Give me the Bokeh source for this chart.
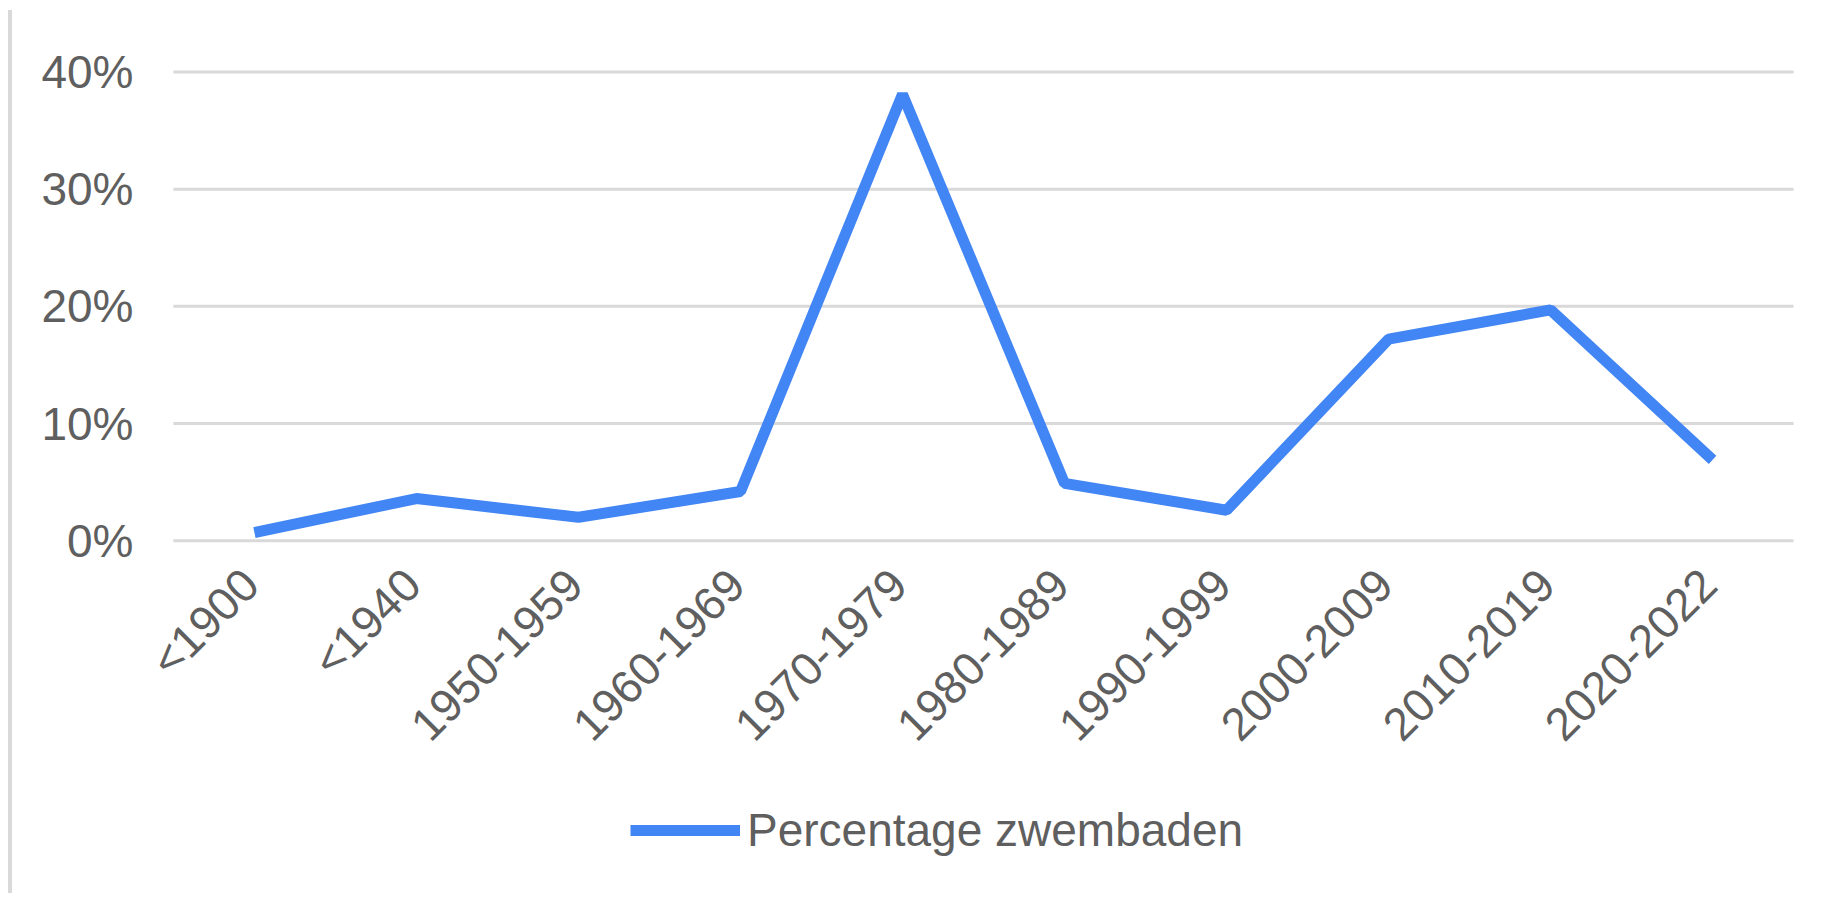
import math
from bokeh.plotting import figure
from bokeh.models import (FactorRange, Range1d, FixedTicker, PrintfTickFormatter,
                          Legend, LegendItem, ColumnDataSource, LabelSet)
from bokeh.core.properties import value
from bokeh.embed import file_html
from bokeh.resources import INLINE

# ---- data ----
categories = ["<1900", "<1940", "1950-1959", "1960-1969", "1970-1979",
              "1980-1989", "1990-1999", "2000-2009", "2010-2019", "2020-2022"]
percentage_zwembaden = [0.7, 3.6, 2.0, 4.2, 38.1, 4.9, 2.6, 17.2, 19.7, 6.9]
y_ticks = [0, 10, 20, 30, 40]
series_name = "Percentage zwembaden"

FONT = "Liberation Sans"
TEXT_COLOR = "#5f5f5f"
GRID_COLOR = "#d9d9d9"
LINE_COLOR = "#4285F4"

source = ColumnDataSource(dict(cat=categories, val=percentage_zwembaden,
                               base=[0] * len(categories)))
grid_source = ColumnDataSource(dict(tick=y_ticks,
                                    x0=[0] * len(y_ticks),
                                    x1=[len(categories)] * len(y_ticks)))

# The frame extends below 0% (and a little to the left) so that the category
# labels and the legend sit inside it.
p = figure(
    width=1813, height=883,
    x_range=FactorRange(factors=categories, range_padding=0.16,
                        range_padding_units="absolute"),
    y_range=Range1d(-29.85, 40.3),
    x_axis_location=None,
    output_backend="svg", toolbar_location=None,
    min_border_left=135, min_border_right=6,
    min_border_top=58, min_border_bottom=3,
)
p.styles = {"border-left": "4px solid #d9d9d9", "margin-left": "8px", "margin-top": "10px"}
p.outline_line_color = None
p.background_fill_color = "white"
p.border_fill_color = "white"
p.xgrid.grid_line_color = None
p.ygrid.grid_line_color = None

# horizontal gridlines spanning the category bands only
p.segment(x0="x0", x1="x1", y0="tick", y1="tick", source=grid_source,
          line_color=GRID_COLOR, line_width=3)

r = p.line(x="cat", y="val", source=source, line_color=LINE_COLOR, line_width=11)

# category labels along the 0% baseline, rotated 45 degrees
labels = LabelSet(x="cat", y="base", text="cat", source=source, angle=math.pi / 4,
                  x_offset=-4, y_offset=-36, text_align="right", text_baseline="middle",
                  text_font=value(FONT), text_font_size="46px", text_color=TEXT_COLOR)
p.add_layout(labels)

# y axis
p.yaxis.ticker = FixedTicker(ticks=y_ticks)
p.yaxis.formatter = PrintfTickFormatter(format="%d%%")
p.yaxis.axis_line_color = None
p.yaxis.major_tick_line_color = None
p.yaxis.minor_tick_line_color = None
p.yaxis.major_tick_out = 0
p.yaxis.major_tick_in = 0
p.yaxis.major_label_standoff = 14
p.yaxis.major_label_text_font = FONT
p.yaxis.major_label_text_font_size = "46px"
p.yaxis.major_label_text_color = TEXT_COLOR

# legend
legend = Legend(items=[LegendItem(label=series_name, renderers=[r])],
                location=(483, 33))
legend.border_line_color = None
legend.background_fill_alpha = 0
legend.margin = 0
legend.padding = 0
legend.spacing = 0
legend.glyph_width = 110
legend.glyph_height = 50
legend.label_height = 50
legend.label_standoff = 7
legend.label_text_font = FONT
legend.label_text_font_size = "46px"
legend.label_text_color = TEXT_COLOR
p.add_layout(legend, "center")

open("out.html", "w").write(file_html(p, INLINE))
